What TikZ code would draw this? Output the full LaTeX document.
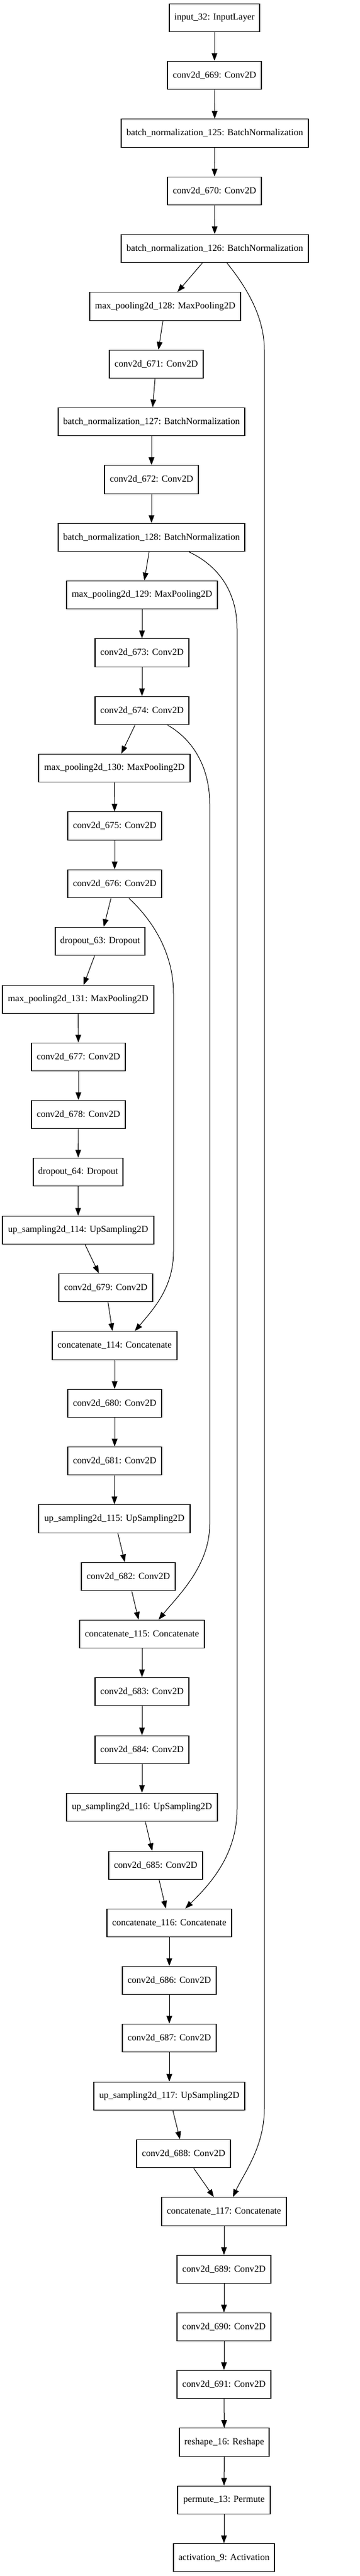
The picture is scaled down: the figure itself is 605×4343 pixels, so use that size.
\documentclass[tikz,border=0pt]{standalone}
\usepackage{fontspec}
\setmainfont{Liberation Serif}
\usetikzlibrary{arrows.meta}
\begin{document}
\begin{tikzpicture}[x=1pt,y=-1pt,
  lyr/.style={draw,line width=1.1pt,minimum height=47.7pt,inner sep=0pt,font=\fontsize{15.7}{18}\selectfont},
  edge/.style={line width=1pt,-{Triangle[length=13pt,width=9.5pt]}}]
\useasboundingbox (0,0) rectangle (605,4343);
\node[lyr,minimum width=152pt] (in32) at (361,30) {input\_32: InputLayer};
\node[lyr,minimum width=158pt] (c669) at (361,127) {conv2d\_669: Conv2D};
\node[lyr,minimum width=315pt] (bn125) at (361.5,224.5) {batch\_normalization\_125: BatchNormalization};
\node[lyr,minimum width=158pt] (c670) at (361,322) {conv2d\_670: Conv2D};
\node[lyr,minimum width=315pt] (bn126) at (361.5,419) {batch\_normalization\_126: BatchNormalization};
\node[lyr,minimum width=254pt] (mp128) at (278,516.5) {max\_pooling2d\_128: MaxPooling2D};
\node[lyr,minimum width=158pt] (c671) at (263,614) {conv2d\_671: Conv2D};
\node[lyr,minimum width=314pt] (bn127) at (255,711) {batch\_normalization\_127: BatchNormalization};
\node[lyr,minimum width=158pt] (c672) at (255,808.5) {conv2d\_672: Conv2D};
\node[lyr,minimum width=314pt] (bn128) at (255,906) {batch\_normalization\_128: BatchNormalization};
\node[lyr,minimum width=254pt] (mp129) at (239,1003) {max\_pooling2d\_129: MaxPooling2D};
\node[lyr,minimum width=158pt] (c673) at (239,1100.5) {conv2d\_673: Conv2D};
\node[lyr,minimum width=158pt] (c674) at (239,1198) {conv2d\_674: Conv2D};
\node[lyr,minimum width=255pt] (mp130) at (192.5,1295) {max\_pooling2d\_130: MaxPooling2D};
\node[lyr,minimum width=158pt] (c675) at (193,1392.5) {conv2d\_675: Conv2D};
\node[lyr,minimum width=158pt] (c676) at (193,1490) {conv2d\_676: Conv2D};
\node[lyr,minimum width=151pt] (do63) at (168.5,1587) {dropout\_63: Dropout};
\node[lyr,minimum width=255pt] (mp131) at (131.5,1685) {max\_pooling2d\_131: MaxPooling2D};
\node[lyr,minimum width=158pt] (c677) at (132,1782) {conv2d\_677: Conv2D};
\node[lyr,minimum width=158pt] (c678) at (132,1879) {conv2d\_678: Conv2D};
\node[lyr,minimum width=151pt] (do64) at (131.5,1976) {dropout\_64: Dropout};
\node[lyr,minimum width=255pt] (up114) at (131.5,2074) {up\_sampling2d\_114: UpSampling2D};
\node[lyr,minimum width=158pt] (c679) at (178,2171) {conv2d\_679: Conv2D};
\node[lyr,minimum width=210pt] (cat114) at (193,2268.5) {concatenate\_114: Concatenate};
\node[lyr,minimum width=158pt] (c680) at (193,2366) {conv2d\_680: Conv2D};
\node[lyr,minimum width=158pt] (c681) at (193,2463) {conv2d\_681: Conv2D};
\node[lyr,minimum width=255pt] (up115) at (192.5,2560.5) {up\_sampling2d\_115: UpSampling2D};
\node[lyr,minimum width=158pt] (c682) at (216,2658) {conv2d\_682: Conv2D};
\node[lyr,minimum width=210pt] (cat115) at (239,2755) {concatenate\_115: Concatenate};
\node[lyr,minimum width=158pt] (c683) at (239,2852) {conv2d\_683: Conv2D};
\node[lyr,minimum width=158pt] (c684) at (239,2950) {conv2d\_684: Conv2D};
\node[lyr,minimum width=254pt] (up116) at (239,3047) {up\_sampling2d\_116: UpSampling2D};
\node[lyr,minimum width=158pt] (c685) at (262,3145) {conv2d\_685: Conv2D};
\node[lyr,minimum width=210pt] (cat116) at (285,3242) {concatenate\_116: Concatenate};
\node[lyr,minimum width=158pt] (c686) at (285,3339) {conv2d\_686: Conv2D};
\node[lyr,minimum width=158pt] (c687) at (285,3436) {conv2d\_687: Conv2D};
\node[lyr,minimum width=254pt] (up117) at (285,3534) {up\_sampling2d\_117: UpSampling2D};
\node[lyr,minimum width=158pt] (c688) at (309,3631) {conv2d\_688: Conv2D};
\node[lyr,minimum width=210pt] (cat117) at (377,3728.5) {concatenate\_117: Concatenate};
\node[lyr,minimum width=158pt] (c689) at (377,3826) {conv2d\_689: Conv2D};
\node[lyr,minimum width=158pt] (c690) at (377,3923) {conv2d\_690: Conv2D};
\node[lyr,minimum width=158pt] (c691) at (377,4020) {conv2d\_691: Conv2D};
\node[lyr,minimum width=151pt] (rs16) at (377.5,4117.5) {reshape\_16: Reshape};
\node[lyr,minimum width=156pt] (pm13) at (377,4215) {permute\_13: Permute};
\node[lyr,minimum width=170pt] (act9) at (377,4312) {activation\_9: Activation};
% main chain
\foreach \a/\b in {in32/c669,c669/bn125,bn125/c670,c670/bn126,bn126/mp128,mp128/c671,c671/bn127,bn127/c672,c672/bn128,bn128/mp129,mp129/c673,c673/c674,c674/mp130,mp130/c675,c675/c676,c676/do63,do63/mp131,mp131/c677,c677/c678,c678/do64,do64/up114,up114/c679,c679/cat114,cat114/c680,c680/c681,c681/up115,up115/c682,c682/cat115,cat115/c683,c683/c684,c684/up116,up116/c685,c685/cat116,cat116/c686,c686/c687,c687/up117,up117/c688,c688/cat117,cat117/c689,c689/c690,c690/c691,c691/rs16,rs16/pm13,pm13/act9}
  \draw[edge] (\a) -- (\b);
% skip connections
\draw[edge] ([xshift=20.5pt]bn126.south) .. controls (410,478) and (445,530) .. (445,590)
  -- (445,3555) .. controls (445,3620) and (410,3665) .. ([xshift=15pt]cat117.north);
\draw[edge] ([xshift=63pt]bn128.south) .. controls (370,955) and (399,1000) .. (399,1060)
  -- (399,3050) .. controls (399,3130) and (350,3180) .. ([xshift=27pt]cat116.north);
\draw[edge] ([xshift=43pt]c674.south) .. controls (330,1250) and (353,1300) .. (353,1355)
  -- (353,2570) .. controls (353,2640) and (300,2690) .. ([xshift=28pt]cat115.north);
\draw[edge] ([xshift=24pt]c676.south) .. controls (250,1545) and (292,1600) .. (292,1675)
  -- (292,2110) .. controls (292,2170) and (260,2205) .. ([xshift=34pt]cat114.north);
\end{tikzpicture}
\end{document}
